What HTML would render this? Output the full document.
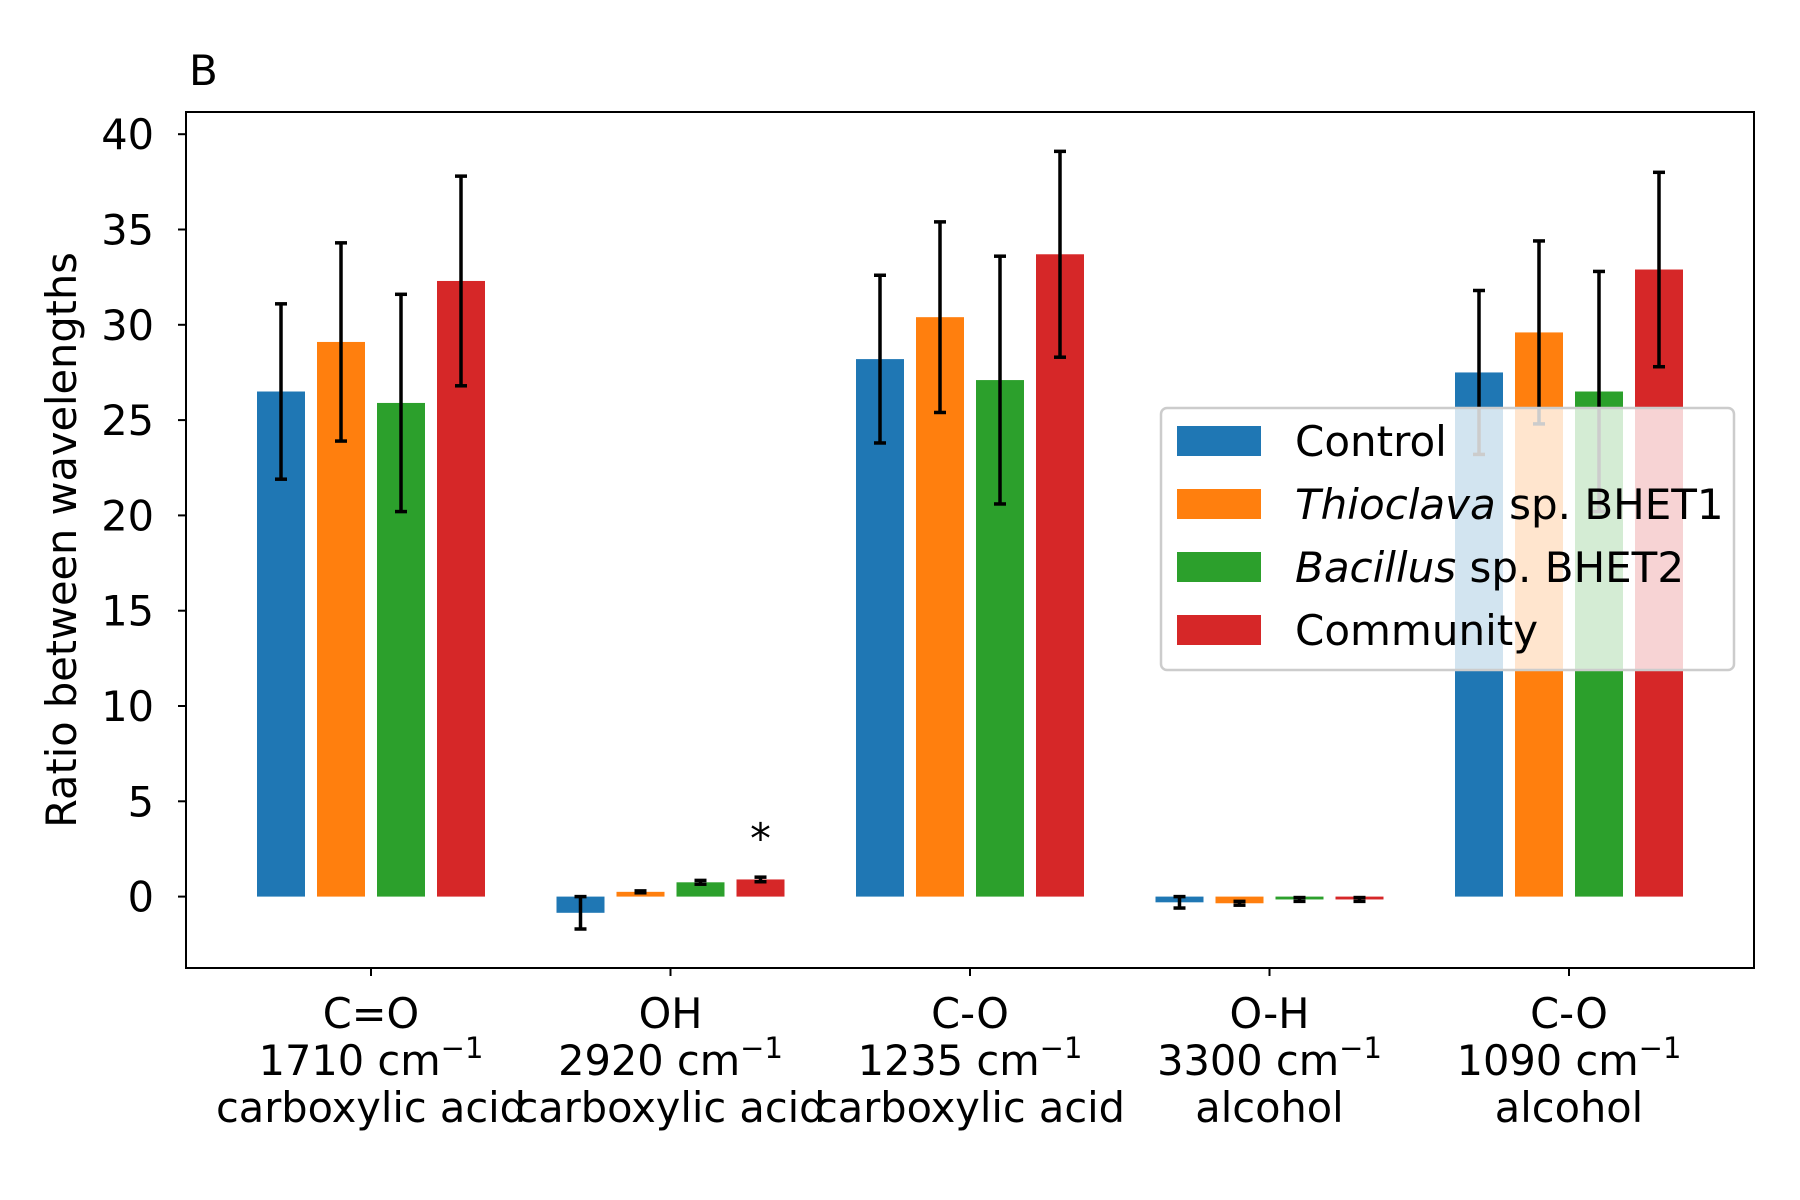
<!DOCTYPE html>
<html><head><meta charset="utf-8"><style>
body{margin:0;background:#fff}
svg{display:block;font-family:"DejaVu Sans","Liberation Sans",sans-serif}
</style></head><body>
<svg width="1800" height="1200" viewBox="0 0 1800 1200">
<g id="plot"></g>
</svg>
<script>
const categories=[["C=O","1710","carboxylic acid"],["OH","2920","carboxylic acid"],["C-O","1235","carboxylic acid"],["O-H","3300","alcohol"],["C-O","1090","alcohol"]];
const seriesNames=["Control","Thioclava","Bacillus","Community"];
const control=[26.5,-0.85,28.2,-0.3,27.5];
const controlErr=[4.6,0.85,4.4,0.3,4.3];
const thioclava=[29.1,0.25,30.4,-0.35,29.6];
const thioclavaErr=[5.2,0.05,5.0,0.1,4.8];
const bacillus=[25.9,0.75,27.1,-0.15,26.5];
const bacillusErr=[5.7,0.1,6.5,0.1,6.3];
const community=[32.3,0.9,33.7,-0.15,32.9];
const communityErr=[5.5,0.12,5.4,0.1,5.1];
const yTicks=[0,5,10,15,20,25,30,35,40];
const colors=["#1f77b4","#ff7f0e","#2ca02c","#d62728"];
const NS="http://www.w3.org/2000/svg";
const svg=document.querySelector('svg');
const L=186,R=1754,T=112,B=968;
const y0=896.6,pxPer=19.06;
const Y=v=>y0-v*pxPer;
const X=i=>371+i*299.5;
const FS=41.5;
function mk(tag,attrs,parent){const e=document.createElementNS(NS,tag);for(const k in attrs)e.setAttribute(k,attrs[k]);(parent||svg).appendChild(e);return e;}
const vals=[control,thioclava,bacillus,community];
const errs=[controlErr,thioclavaErr,bacillusErr,communityErr];
const bw=48,step=60;
for(let s=0;s<4;s++){for(let i=0;i<categories.length;i++){
 const cx=X(i)+(s-1.5)*step,v=vals[s][i];
 const r=mk('rect',{x:cx-bw/2,y:Math.min(Y(v),Y(0)),width:bw,height:Math.abs(Y(v)-Y(0)),fill:colors[s]});
 
 
 const e=errs[s][i];
 const g=mk('g',{stroke:'#000','stroke-width':3.5});
 
 
 mk('line',{x1:cx,x2:cx,y1:Y(v-e),y2:Y(v+e)},g);
 mk('line',{x1:cx-6,x2:cx+6,y1:Y(v-e),y2:Y(v-e)},g);
 mk('line',{x1:cx-6,x2:cx+6,y1:Y(v+e),y2:Y(v+e)},g);
}}
const frame=mk('rect',{x:L,y:T,width:R-L,height:B-T,fill:'none',stroke:'#000','stroke-width':2});


yTicks.forEach(t=>{
 mk('line',{x1:L-8,x2:L,y1:Y(t),y2:Y(t),stroke:'#000','stroke-width':2});
 const tx=mk('text',{x:L-32,y:Y(t)+15,'text-anchor':'end','font-size':FS});tx.textContent=t;
 
 
});
categories.forEach((c,i)=>{
 mk('line',{x1:X(i),x2:X(i),y1:B,y2:B+8,stroke:'#000','stroke-width':2});
 const t=mk('text',{'text-anchor':'middle','font-size':FS});
 
 
 const a=mk('tspan',{x:X(i),y:1028},t);a.textContent=c[0];
 const b=mk('tspan',{x:X(i),y:1075},t);b.textContent=c[1]+' cm';
 const sup=mk('tspan',{dy:-17,'font-size':29},t);sup.textContent='\u22121';
 const d=mk('tspan',{x:X(i),y:1122},t);d.textContent=c[2];
});
const star=mk('text',{x:X(1)+90,y:853,'text-anchor':'middle','font-size':FS});star.textContent='*';


const yt=mk('text',{x:0,y:0,transform:'translate(76,540) rotate(-90)','text-anchor':'middle','font-size':FS});yt.textContent='Ratio between wavelengths';


const pt=mk('text',{x:189,y:85,'font-size':42});pt.textContent='B';


const lg=mk('g',{});


mk('rect',{x:1161,y:408,width:573,height:262,rx:6,fill:'#fff','fill-opacity':0.8,stroke:'#ccc','stroke-width':2.5},lg);
const labels=[["Control",""],["Thioclava"," sp. BHET1"],["Bacillus"," sp. BHET2"],["Community",""]];
labels.forEach((l,k)=>{
 const yy=441+k*63;
 const p=mk('rect',{x:1177,y:yy-15,width:84,height:30,fill:colors[k]},lg);
 
 
 const t=mk('text',{x:1295,y:yy+15,'font-size':42},lg);
 
 
 if(l[1]){const a=mk('tspan',{'font-style':'italic'},t);a.textContent=l[0];const b=mk('tspan',{},t);b.textContent=l[1];}
 else t.textContent=l[0];
});
</script>
</body></html>
